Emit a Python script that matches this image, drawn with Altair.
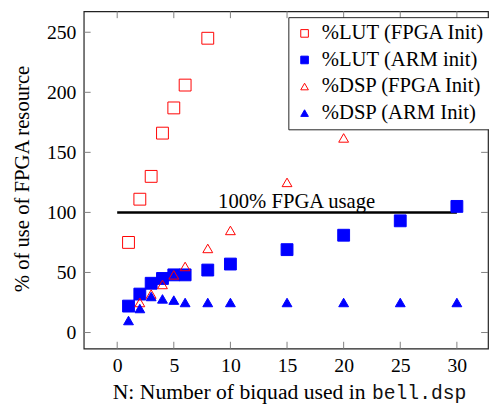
import altair as alt
import pandas as pd

# ---- data ----
series_names = ["%LUT (FPGA Init)", "%LUT (ARM init)", "%DSP (FPGA Init)", "%DSP (ARM Init)"]

lut_fpga_x = [1, 2, 3, 4, 5, 6, 8]
lut_fpga_y = [75, 111, 130, 166, 187, 206, 245]

lut_arm_x = [1, 2, 3, 4, 5, 6, 8, 10, 15, 20, 25, 30]
lut_arm_y = [22, 32, 41, 45, 48, 48, 52, 57, 69, 81, 93, 105]

dsp_fpga_x = [2, 3, 4, 5, 6, 8, 10, 15, 20]
dsp_fpga_y = [25, 32, 40, 48, 55, 70, 85, 125, 162]

dsp_arm_x = [1, 2, 3, 4, 5, 6, 8, 10, 15, 20, 25, 30]
dsp_arm_y = [10, 20, 30, 28, 27, 25, 25, 25, 25, 25, 25, 25]

x_ticks = [0, 5, 10, 15, 20, 25, 30]
y_ticks = [0, 50, 100, 150, 200, 250]

limit_x = [0, 30]
limit_y = 100
limit_label = "100% FPGA usage"
limit_label_x = 15.85

x_title_main = "N: Number of biquad used in"
x_title_code = "bell.dsp"
y_title = "% of use of FPGA resource"

# ---- build table ----
rows = []
for name, xs, ys, kind in [
    (series_names[0], lut_fpga_x, lut_fpga_y, "lut"),
    (series_names[1], lut_arm_x, lut_arm_y, "lut"),
    (series_names[2], dsp_fpga_x, dsp_fpga_y, "dsp"),
    (series_names[3], dsp_arm_x, dsp_arm_y, "dsp"),
]:
    for xv, yv in zip(xs, ys):
        rows.append({"N": xv, "pct": yv, "series": name, "kind": kind})
df = pd.DataFrame(rows)

W, H = 411, 343
SERIF = "Liberation Serif"
FS = 21
TFS = 20

xscale = alt.Scale(domain=[-2.954, 32.75], nice=False, zero=False)
yscale = alt.Scale(domain=[-13.44, 267.46], nice=False, zero=False)

red, blue = "#ff0000", "#0000ff"

leg = alt.Legend(title=None, orient="none", legendX=208, legendY=6,
                 strokeColor="#222222", fillColor="white", padding=6,
                 labelFont=SERIF, labelFontSize=FS, labelColor="black", labelLimit=300,
                 symbolSize=60, symbolStrokeWidth=1, rowPadding=5, labelOffset=7)

enc = dict(
    x=alt.X("N:Q", scale=xscale,
            axis=alt.Axis(values=x_ticks, ticks=False, domain=False, grid=False,
                          labelFont=SERIF, labelFontSize=TFS, labelColor="black",
                          labelPadding=7, labelFlush=False,
                          title=x_title_main, titleFont=SERIF, titleFontSize=22,
                          titleFontWeight="normal", titleColor="black",
                          titleAnchor="start", titleAlign="left", titleBaseline="alphabetic",
                          titleX=29, titleY=51)),
    y=alt.Y("pct:Q", scale=yscale,
            axis=alt.Axis(values=y_ticks, ticks=False, domain=False, grid=False,
                          labelFont=SERIF, labelFontSize=TFS, labelColor="black",
                          labelPadding=8, labelFlush=False,
                          title=y_title, titleFont=SERIF, titleFontSize=FS,
                          titleFontWeight="normal", titleColor="black",
                          titleAlign="center", titleBaseline="alphabetic",
                          titleX=-56, titleY=170, titleAngle=270)),
    shape=alt.Shape("series:N", scale=alt.Scale(domain=series_names,
                    range=["square", "square", "triangle-up", "triangle-up"]),
                    legend=leg),
    stroke=alt.Stroke("series:N", scale=alt.Scale(domain=series_names,
                      range=[red, blue, red, blue]), legend=leg),
    fill=alt.Fill("series:N", scale=alt.Scale(domain=series_names,
                  range=["transparent", blue, "transparent", blue]), legend=leg),
)

squares = alt.Chart(df).transform_filter(alt.datum.kind == "lut").mark_point(
    filled=False, opacity=1, strokeWidth=1, size=145).encode(**enc)
triangles = alt.Chart(df).transform_filter(alt.datum.kind == "dsp").mark_point(
    filled=False, opacity=1, strokeWidth=1, size=100).encode(**enc)

rule_df = pd.DataFrame({"x": [limit_x[0]], "x2": [limit_x[1]], "y": [limit_y]})
limit_rule = alt.Chart(rule_df).mark_rule(color="black", strokeWidth=2.5).encode(
    x=alt.X("x:Q", scale=xscale), x2="x2:Q", y=alt.Y("y:Q", scale=yscale))

label_df = pd.DataFrame({"x": [limit_label_x], "y": [limit_y], "t": [limit_label]})
limit_text = alt.Chart(label_df).mark_text(font=SERIF, fontSize=FS, color="black",
                                           baseline="alphabetic", dy=-4).encode(
    x=alt.X("x:Q", scale=xscale), y=alt.Y("y:Q", scale=yscale), text="t:N")

# inward ticks on all four sides
xt = pd.DataFrame({"x": x_ticks})
yt = pd.DataFrame({"y": y_ticks})
TL = 7
tick_col = "#7f7f7f"
xt_bottom = alt.Chart(xt).mark_rule(color=tick_col, strokeWidth=1).encode(
    x=alt.X("x:Q", scale=xscale), y=alt.value(H - TL), y2=alt.value(H))
xt_top = alt.Chart(xt).mark_rule(color=tick_col, strokeWidth=1).encode(
    x=alt.X("x:Q", scale=xscale), y=alt.value(0), y2=alt.value(TL))
yt_left = alt.Chart(yt).mark_rule(color=tick_col, strokeWidth=1).encode(
    y=alt.Y("y:Q", scale=yscale), x=alt.value(0), x2=alt.value(TL))
yt_right = alt.Chart(yt).mark_rule(color=tick_col, strokeWidth=1).encode(
    y=alt.Y("y:Q", scale=yscale), x=alt.value(W - TL), x2=alt.value(W))

code_df = pd.DataFrame({"t": [x_title_code]})
code_text = alt.Chart(code_df).mark_text(font="Liberation Mono", fontSize=20, color="#111111",
                                         align="left", baseline="alphabetic").encode(
    x=alt.value(293), y=alt.value(H + 51), text="t:N")

chart = alt.layer(
    xt_bottom, xt_top, yt_left, yt_right, limit_rule, limit_text, squares, triangles, code_text
).properties(
    width=W, height=H,
    autosize=alt.AutoSizeParams(type="none"),
    padding={"left": 77, "top": 0, "right": 1, "bottom": 57},
).configure_view(
    stroke="#222222", strokeWidth=1.2
)

chart.save("out.html", embed_options={"renderer": "svg", "actions": False})
